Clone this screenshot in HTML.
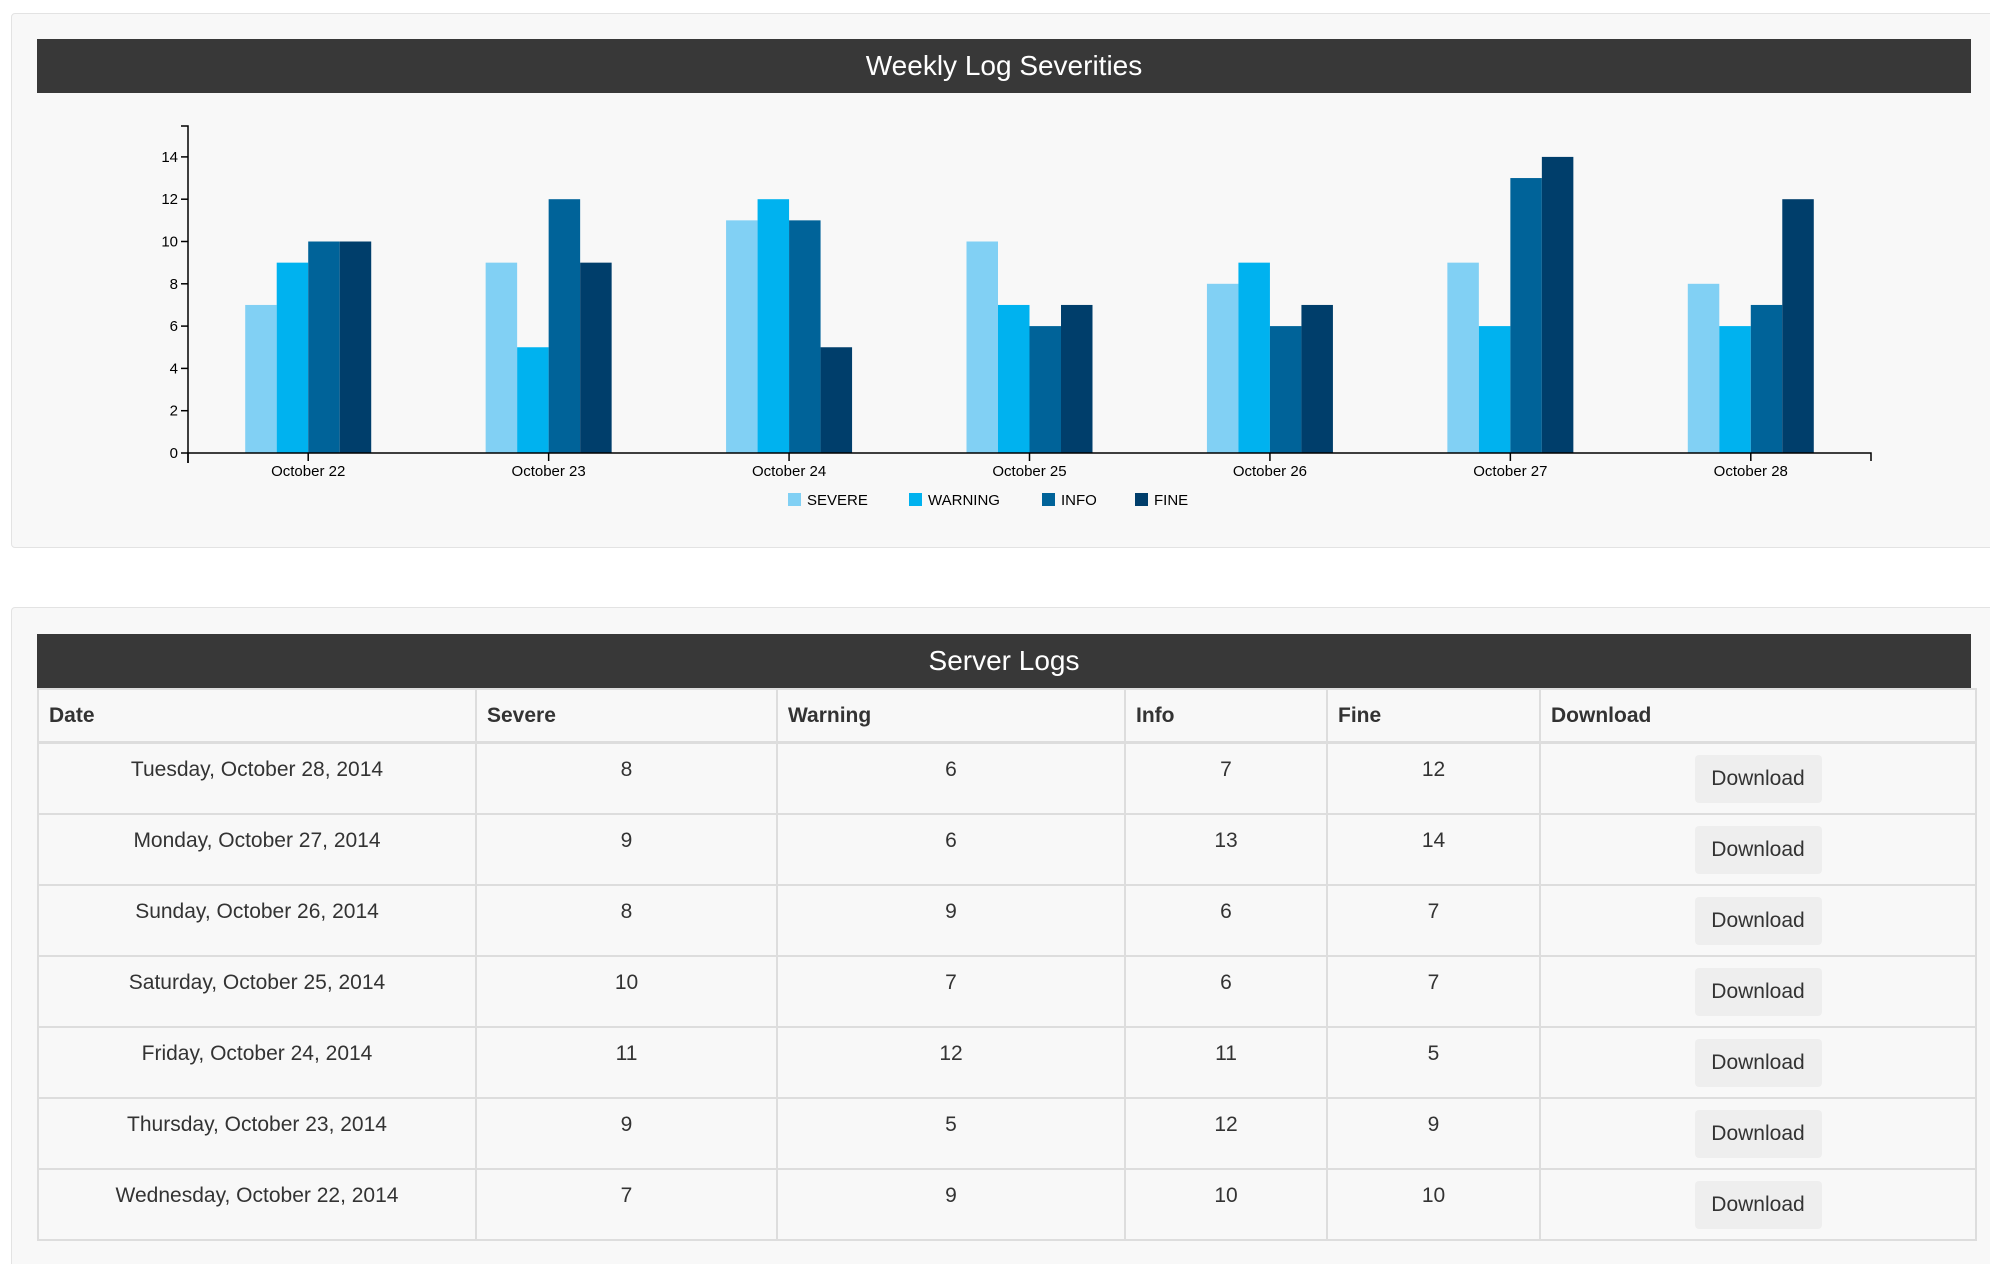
<!DOCTYPE html>
<html><head><meta charset="utf-8"><style>
html,body{margin:0;width:1990px;height:1264px;overflow:hidden}
body{background:#fff;position:relative;font-family:"Liberation Sans",sans-serif;color:#333}
.panel{position:absolute;left:11px;width:2000px;background:#f8f8f8;border:1px solid #e3e3e3;border-radius:4px}
.bar{position:absolute;left:37px;width:1934px;background:#383838;color:#fff;text-align:center;font-size:28px;font-weight:300}
table{position:absolute;left:37px;top:688px;border-collapse:collapse;font-size:21px;color:#333}
td,th{border:2px solid #ddd;padding:0}
th{text-align:left;font-weight:bold;height:51px;padding-left:10px;border-bottom:3px solid #ddd}
tr.r{height:71px}
td{text-align:center;vertical-align:top;padding-top:14px;box-sizing:border-box}
.btn{display:inline-block;width:127px;height:48px;line-height:48px;background:#eee;border-radius:4px;font-size:21px;color:#333;margin-top:-1px}
</style></head><body>
<div class="panel" style="top:13px;height:533px"></div>
<div class="bar" style="top:39px;height:54px;line-height:54px">Weekly Log Severities</div>
<svg id="chart" width="1990" height="560" style="position:absolute;left:0;top:0" font-family="Liberation Sans, sans-serif"></svg>
<div class="panel" style="top:607px;height:660px;border-bottom:none"></div>
<div class="bar" style="top:634px;height:54px;line-height:54px">Server Logs</div>
<table>
<tr><th style="width:426px">Date</th><th style="width:289px">Severe</th><th style="width:336px">Warning</th><th style="width:190px">Info</th><th style="width:201px">Fine</th><th style="width:424px">Download</th></tr>
<tbody id="tb"></tbody></table>
<script>
const categories=["October 22","October 23","October 24","October 25","October 26","October 27","October 28"];
const severe=[7,9,11,10,8,9,8];
const warning=[9,5,12,7,9,6,6];
const info=[10,12,11,6,6,13,7];
const fine=[10,9,5,7,7,14,12];
const seriesNames=["SEVERE","WARNING","INFO","FINE"];
const yTicks=[0,2,4,6,8,10,12,14];
const dates=["Wednesday, October 22, 2014","Thursday, October 23, 2014","Friday, October 24, 2014","Saturday, October 25, 2014","Sunday, October 26, 2014","Monday, October 27, 2014","Tuesday, October 28, 2014"];
const colors=["#81d0f4","#00b2ef","#006399","#003e6b"];
const NS="http://www.w3.org/2000/svg";
const svg=document.getElementById('chart');
const X0=188,X1=1871,Y0=453,U=21.15;
const band=(X1-X0)/categories.length;
const y=v=>Y0-v*U;
const xc=i=>X0+band*(i+0.5);
function mk(t,a){const e=document.createElementNS(NS,t);for(const k in a)e.setAttribute(k,a[k]);svg.appendChild(e);return e;}
const series=[severe,warning,info,fine];
const bw=31.5;
categories.forEach((c,i)=>{
  series.forEach((s,j)=>{
    const r=mk('rect',{x:xc(i)-2*bw+j*bw,y:y(s[i]),width:bw,height:s[i]*U,fill:colors[j]});
    
    
  });
  mk('line',{x1:xc(i),x2:xc(i),y1:Y0,y2:Y0+8,stroke:'#000','stroke-width':1.5});
  const t=mk('text',{x:xc(i),y:476,'text-anchor':'middle','font-size':15,fill:'#000'});
  t.textContent=c;
  
  
});
const ya=mk('path',{d:`M${X0-7},126H${X0}V${Y0+10}`,stroke:'#000',fill:'none','stroke-width':1.5});


const xa=mk('path',{d:`M${X0},${Y0+10}V${Y0}H${X1}V${Y0+8}`,stroke:'#000',fill:'none','stroke-width':1.5});


yTicks.forEach(v=>{
  mk('line',{x1:X0-7,x2:X0,y1:y(v),y2:y(v),stroke:'#000','stroke-width':1.5});
  const t=mk('text',{x:X0-10,y:y(v)+5,'text-anchor':'end','font-size':15,fill:'#000'});
  t.textContent=v;
  
  
});
const lx=[788,909,1042,1135];
seriesNames.forEach((n,j)=>{
  const r=mk('rect',{x:lx[j],y:493,width:13,height:13,fill:colors[j]});
  
  
  const t=mk('text',{x:lx[j]+19,y:505,'font-size':15,fill:'#000'});
  t.textContent=n;
  
  
});
const tb=document.getElementById('tb');
for(let i=categories.length-1;i>=0;i--){
  const tr=document.createElement('tr');
  tr.className='r';
  
  
  [dates[i],severe[i],warning[i],info[i],fine[i]].forEach(v=>{const td=document.createElement('td');td.textContent=v;tr.appendChild(td);});
  const td=document.createElement('td');td.style.paddingTop='12px';
  const b=document.createElement('span');b.className='btn';b.textContent='Download';
  
  
  td.appendChild(b);tr.appendChild(td);tb.appendChild(tr);
}
</script>
</body></html>
